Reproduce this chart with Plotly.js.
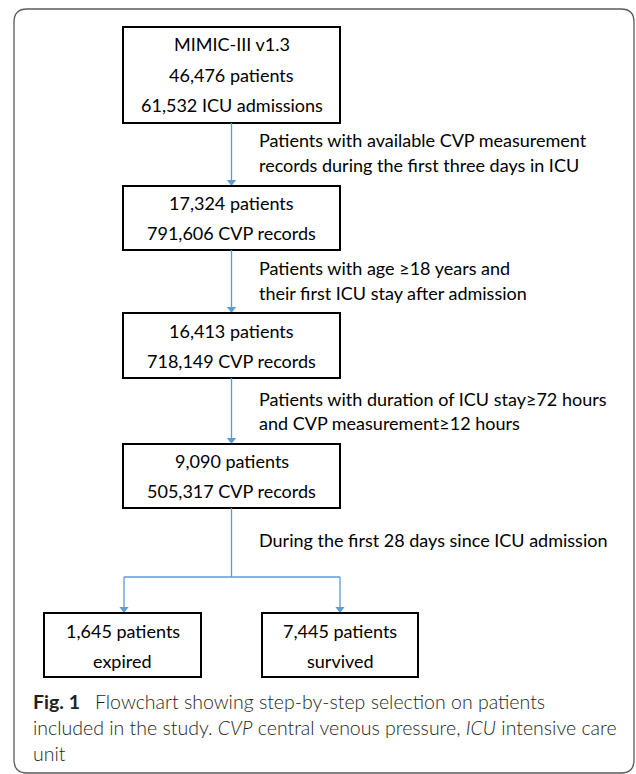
<!DOCTYPE html>
<html>
<head>
<meta charset="utf-8">
<script src="https://cdn.plot.ly/plotly-3.0.1.min.js"></script>
<style>html,body{margin:0;padding:0;background:#fff;}#chart{width:636px;height:774px;}</style>
</head>
<body>
<div id="chart"></div>
<script>
// ---- content (text) ----
const stepBoxes = [
  ["MIMIC-III v1.3", "46,476 patients", "61,532 ICU admissions"],
  ["17,324 patients", "791,606 CVP records"],
  ["16,413 patients", "718,149 CVP records"],
  ["9,090 patients", "505,317 CVP records"]
];
const criteria = [
  ["Patients with available CVP measurement", "records during the first three days in ICU"],
  ["Patients with age \u226518 years and", "their first ICU stay after admission"],
  ["Patients with duration of ICU stay\u226572 hours", "and CVP measurement\u226512 hours"],
  ["During the first 28 days since ICU admission"]
];
const outcomes = [
  ["1,645 patients", "expired"],
  ["7,445 patients", "survived"]
];
const captionBold = "Fig. 1";
const captionLines = [
  "Flowchart showing step-by-step selection on patients",
  "included in the study. <i>CVP</i> central venous pressure, <i>ICU</i> intensive care",
  "unit"
];

// ---- layout geometry (pixels, y downward) ----
const W = 636, H = 774;
const boxX = [123, 340];
const boxY = [[27, 123], [186, 250], [313, 378], [444, 508]];
const boxTextY = [[44, 75, 105], [203, 233], [331, 361], [461, 491]];
const critY = [[140, 165], [268, 293], [399, 423], [540]];
const critX = 257;
const outX = [[44, 201], [262, 418]];
const outY = [613, 677];
const outTextY = [631, 661];
const branchY = 577;
const capY = [701, 727, 753];
const arrowCol = "#5b9bd5";
const boxFont = {family: "Lato, 'Liberation Sans', sans-serif", size: 18, color: "#000"};
const capFont = {family: "Lato, 'Open Sans', sans-serif", size: 19.5, color: "#231f20", weight: 300};

const shapes = [];
const annotations = [];
const cx = (boxX[0] + boxX[1]) / 2;

// outer rounded frame
const fl = 14, ft = 9, fr = 634, fb = 773, r = 13;
shapes.push({type: "path", xref: "x", yref: "y",
  path: `M ${fl+r},${ft} L ${fr-r},${ft} Q ${fr},${ft} ${fr},${ft+r} L ${fr},${fb-r} Q ${fr},${fb} ${fr-r},${fb} L ${fl+r},${fb} Q ${fl},${fb} ${fl},${fb-r} L ${fl},${ft+r} Q ${fl},${ft} ${fl+r},${ft} Z`,
  line: {color: "#5a5a5a", width: 1.3}});

function rect(x0, x1, y0, y1) {
  shapes.push({type: "rect", xref: "x", yref: "y", x0, x1, y0, y1,
    line: {color: "#000", width: 2}, fillcolor: "rgba(0,0,0,0)"});
}
function seg(x0, y0, x1, y1) {
  shapes.push({type: "line", xref: "x", yref: "y", x0, y0, x1, y1,
    line: {color: arrowCol, width: 1.3}});
}
const tipsX = [], tipsY = [];

stepBoxes.forEach((lines, i) => {
  rect(boxX[0], boxX[1], boxY[i][0], boxY[i][1]);
  lines.forEach((t, j) => annotations.push({x: cx, y: boxTextY[i][j], xref: "x", yref: "y",
    text: t, showarrow: false, font: boxFont, xanchor: "center", yanchor: "middle"}));
});
criteria.forEach((lines, i) => {
  lines.forEach((t, j) => annotations.push({x: critX, y: critY[i][j], xref: "x", yref: "y",
    text: t, showarrow: false, font: boxFont, xanchor: "left", yanchor: "middle"}));
});
// connectors between the step boxes
for (let i = 0; i < stepBoxes.length - 1; i++) {
  seg(cx, boxY[i][1], cx, boxY[i + 1][0] - 4);
  tipsX.push(cx); tipsY.push(boxY[i + 1][0] - 4);
}
// branch
seg(cx, boxY[3][1], cx, branchY);
const bx = [124, 340];
seg(bx[0], branchY, bx[1], branchY);
bx.forEach(x => { seg(x, branchY, x, outY[0] - 4); tipsX.push(x); tipsY.push(outY[0] - 4); });

outcomes.forEach((lines, i) => {
  rect(outX[i][0], outX[i][1], outY[0], outY[1]);
  const ox = (outX[i][0] + outX[i][1]) / 2;
  lines.forEach((t, j) => annotations.push({x: ox, y: outTextY[j], xref: "x", yref: "y",
    text: t, showarrow: false, font: boxFont, xanchor: "center", yanchor: "middle"}));
});

// caption
annotations.push({x: 31, y: capY[0], xref: "x", yref: "y", xanchor: "left", yanchor: "middle", showarrow: false,
  text: `<b>${captionBold}</b>\u2002 ${captionLines[0]}`, font: capFont});
for (let k = 1; k < captionLines.length; k++) {
  annotations.push({x: 31, y: capY[k], xref: "x", yref: "y", xanchor: "left", yanchor: "middle", showarrow: false,
    text: captionLines[k], font: capFont});
}

const trace = {type: "scatter", mode: "markers", x: tipsX, y: tipsY, hoverinfo: "skip",
  marker: {symbol: "triangle-down", size: 8, color: arrowCol, line: {width: 0}}};

const layout = {
  width: W, height: H, margin: {l: 0, r: 0, t: 0, b: 0},
  paper_bgcolor: "#fff", plot_bgcolor: "#fff", showlegend: false,
  xaxis: {range: [0, W], visible: false, fixedrange: true},
  yaxis: {range: [H, 0], visible: false, fixedrange: true},
  shapes, annotations
};
Plotly.newPlot("chart", [trace], layout, {staticPlot: true, displayModeBar: false});
</script>
</body>
</html>
